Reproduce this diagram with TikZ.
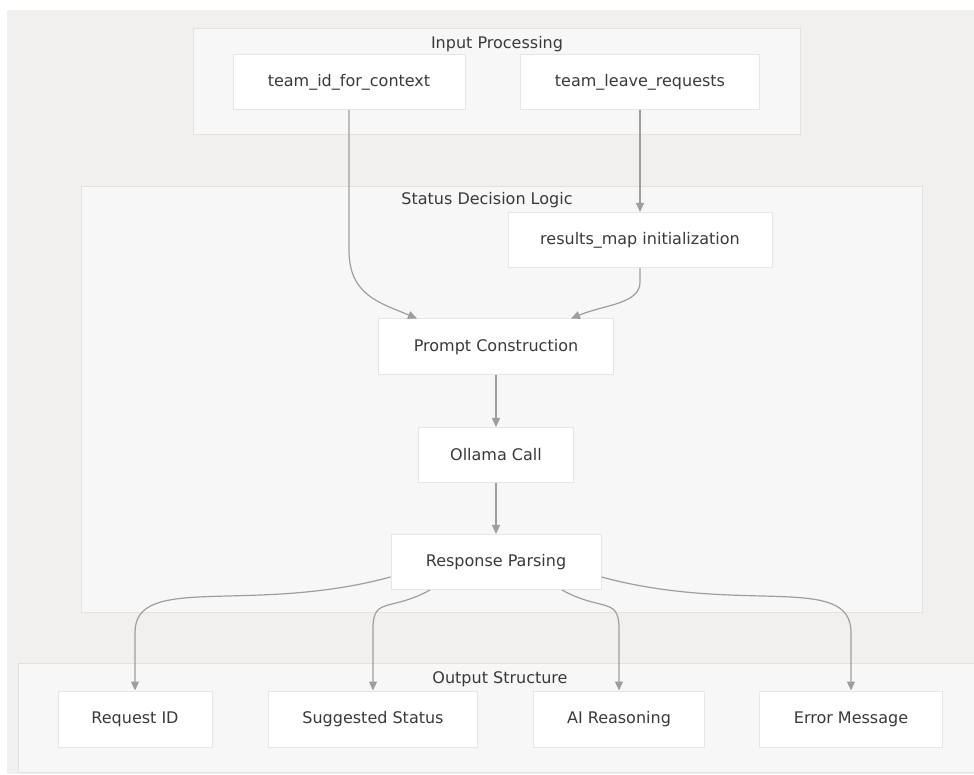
\documentclass[tikz,border=0pt]{standalone}
\usepackage{fontspec}
\setmainfont{DejaVu Sans}
\usepackage{xcolor}
\usepackage{tikz}
\usetikzlibrary{arrows.meta,calc,positioning}
\definecolor{pagebg}{HTML}{F1F0EE}
\definecolor{clusterbg}{HTML}{F7F7F7}
\definecolor{clusterline}{HTML}{E2E2E2}
\definecolor{boxline}{HTML}{E6E6E6}
\definecolor{edgegray}{HTML}{9E9E9E}
\definecolor{textgray}{HTML}{3A3A3A}

\begin{document}
\begin{tikzpicture}[
  x=1pt,y=1pt,
  cluster/.style={draw=clusterline,fill=clusterbg,line width=1pt},
  title/.style={font=\fontsize{16}{19}\selectfont,text=textgray,inner sep=0pt},
  box/.style={draw=boxline,fill=white,line width=1pt,minimum height=55pt,align=center,font=\fontsize{16}{19}\selectfont,text=textgray},
  edge/.style={draw=edgegray,line width=1.2pt,-{Triangle[length=9pt,width=8pt]}}
]
\useasboundingbox (0,0) rectangle (974,774);
\fill[pagebg] (7,0) rectangle (974,764);

\draw[cluster] (193,639) rectangle (800,745);
\draw[cluster] (81,162) rectangle (922,587);
\draw[cluster] (18,2) rectangle (974,111);

\node[title] (inputlbl) at (497,730) {Input Processing};
\node[title] (decisionlbl) at (487,574) {Status Decision Logic};
\node[title] (outputlbl) at (500,95) {Output Structure};

\node[box,minimum width=232pt] (ctx) at (349,692) {team\_id\_for\_context};
\node[box,minimum width=239pt] (leave) at (640,692) {team\_leave\_requests};
\node[box,minimum width=264pt] (rmap) at (640,534) {results\_map initialization};
\node[box,minimum width=235pt,minimum height=56pt] (prompt) at (496,427) {Prompt Construction};
\node[box,minimum width=155pt] (ollama) at (496,319) {Ollama Call};
\node[box,minimum width=210pt] (parse) at (496,212) {Response Parsing};
\node[box,minimum width=154pt,minimum height=56pt] (reqid) at (135,55) {Request ID};
\node[box,minimum width=209pt,minimum height=56pt] (sugg) at (373,55) {Suggested Status};
\node[box,minimum width=171pt,minimum height=56pt] (reason) at (619,55) {AI Reasoning};
\node[box,minimum width=183pt,minimum height=56pt] (errmsg) at (851,55) {Error Message};

\draw[edge] (ctx.south) -- ++(0,-140)
  .. controls +(0,-45) and +(-38,16) .. ([xshift=-79pt]prompt.north);
\draw[edge] (leave.south) -- (rmap.north);
\draw[edge] (rmap.south) -- ++(0,-14)
  .. controls +(0,-22) and +(34,14) .. ([xshift=75pt]prompt.north);
\draw[edge] (prompt.south) -- (ollama.north);
\draw[edge] (ollama.south) -- (parse.north);

\draw[edge] ([yshift=-15pt]parse.west)
  .. controls +(-140,-38) and +(0,60) .. ($(reqid.north)+(0,58)$) -- (reqid.north);
\draw[edge] ([xshift=-66pt]parse.south)
  .. controls +(-40,-22) and +(0,32) .. ($(sugg.north)+(0,62)$) -- (sugg.north);
\draw[edge] ([xshift=66pt]parse.south)
  .. controls +(40,-22) and +(0,32) .. ($(reason.north)+(0,62)$) -- (reason.north);
\draw[edge] ([yshift=-15pt]parse.east)
  .. controls +(140,-38) and +(0,60) .. ($(errmsg.north)+(0,58)$) -- (errmsg.north);
\end{tikzpicture}
\end{document}
